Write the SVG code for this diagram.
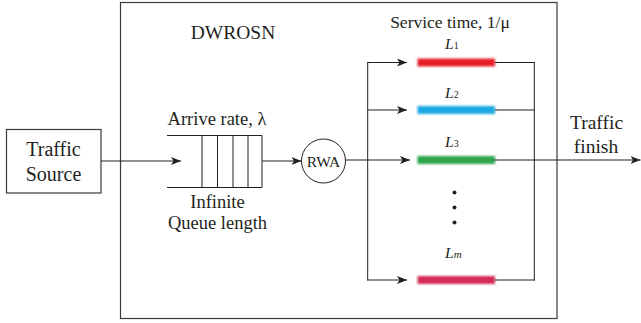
<svg xmlns="http://www.w3.org/2000/svg" width="641" height="323" viewBox="0 0 641 323">
  <style>
    .frame { fill: none; stroke: #3a3a3a; stroke-width: 1.2; }
    .wire { fill: none; stroke: #231f20; stroke-width: 1; }
    .t { font-family: "Liberation Serif", "Times New Roman", serif; fill: #231f20; }
    .lab { font-family: "Liberation Serif", "Times New Roman", serif; fill: #231f20; font-style: italic; font-size: 15.5px; }
    .sub { font-size: 10px; font-style: normal; }
    .subi { font-size: 11px; font-style: italic; }
    .bar { stroke: none; filter: url(#soft); }
  </style>
  <defs>
    <marker id="arrow" viewBox="0 0 10 8" refX="10" refY="4" markerWidth="10" markerHeight="8" markerUnits="userSpaceOnUse" orient="auto">
      <path d="M0,0 L10,4 L0,8 L2.5,4 Z" fill="#231f20"/>
    </marker>
    <filter id="soft" x="-10%" y="-60%" width="120%" height="220%">
      <feGaussianBlur stdDeviation="0.8"/>
    </filter>
  </defs>

  <!-- network boundary -->
  <g id="dwrosn">
    <rect class="frame" x="120.5" y="2.5" width="436.5" height="316"/>
    <text class="t" x="233" y="39" font-size="19.5" text-anchor="middle">DWROSN</text>
  </g>

  <!-- traffic generator -->
  <g id="traffic-source">
    <rect class="frame" x="6.5" y="129.5" width="94.5" height="63.5"/>
    <text class="t" x="53.5" y="155.5" font-size="20" text-anchor="middle">Traffic</text>
    <text class="t" x="53.5" y="181" font-size="20" text-anchor="middle">Source</text>
  </g>

  <!-- waiting queue -->
  <g id="queue">
    <path class="wire" d="M167,135.5 H262 V187.5 H167 M202,135.5 V187.5 M217.5,135.5 V187.5 M233,135.5 V187.5 M248,135.5 V187.5"/>
    <text class="t" x="217" y="125" font-size="18.5" text-anchor="middle">Arrive rate, λ</text>
    <text class="t" x="217.5" y="208" font-size="18.5" text-anchor="middle">Infinite</text>
    <text class="t" x="217.5" y="229" font-size="18.5" text-anchor="middle">Queue length</text>
  </g>

  <!-- routing and wavelength assignment -->
  <g id="rwa">
    <circle class="wire" cx="323.5" cy="161" r="22"/>
    <text class="t" x="323.5" y="166.5" font-size="15.5" text-anchor="middle">RWA</text>
  </g>

  <!-- parallel lightpaths -->
  <g id="lightpaths">
    <text class="t" x="450" y="27.5" font-size="17.5" text-anchor="middle">Service time, 1/μ</text>
    <g id="l1">
      <rect class="bar" x="417.5" y="58.5" width="77.5" height="8" fill="#e61e28"/>
      <text class="lab" x="445" y="49">L<tspan class="sub">1</tspan></text>
    </g>
    <g id="l2">
      <rect class="bar" x="417.5" y="106" width="77.5" height="8" fill="#1ea9e1"/>
      <text class="lab" x="445" y="98">L<tspan class="sub">2</tspan></text>
    </g>
    <g id="l3">
      <rect class="bar" x="417.5" y="156" width="77.5" height="8" fill="#2fa64a"/>
      <text class="lab" x="445" y="147">L<tspan class="sub">3</tspan></text>
    </g>
    <g id="dots" fill="#231f20">
      <circle cx="454.5" cy="192.5" r="2"/>
      <circle cx="454.5" cy="207.5" r="2"/>
      <circle cx="454.5" cy="222.5" r="2"/>
    </g>
    <g id="lm">
      <rect class="bar" x="417.5" y="276" width="77.5" height="8" fill="#d52a5c"/>
      <text class="lab" x="445" y="258">L<tspan class="subi">m</tspan></text>
    </g>
  </g>

  <g id="traffic-finish">
    <text class="t" x="596.5" y="128.5" font-size="19.5" text-anchor="middle">Traffic</text>
    <text class="t" x="596" y="152.5" font-size="19.5" text-anchor="middle">finish</text>
  </g>

  <!-- connectors -->
  <g id="connectors">
    <line class="wire" x1="101" y1="161" x2="181" y2="161" marker-end="url(#arrow)"/>
    <line class="wire" x1="262" y1="161" x2="301.5" y2="161" marker-end="url(#arrow)"/>
    <line class="wire" x1="345.5" y1="160" x2="410" y2="160" marker-end="url(#arrow)"/>
    <line class="wire" x1="367.7" y1="62.5" x2="367.7" y2="280.5"/>
    <line class="wire" x1="367.2" y1="62.5" x2="407" y2="62.5" marker-end="url(#arrow)"/>
    <line class="wire" x1="367.7" y1="110" x2="407" y2="110" marker-end="url(#arrow)"/>
    <line class="wire" x1="367.2" y1="280" x2="407" y2="280" marker-end="url(#arrow)"/>
    <line class="wire" x1="495" y1="62.5" x2="534.8" y2="62.5"/>
    <line class="wire" x1="495" y1="110" x2="534.3" y2="110"/>
    <line class="wire" x1="495" y1="280" x2="534.8" y2="280"/>
    <line class="wire" x1="534.3" y1="62" x2="534.3" y2="280.5"/>
    <line class="wire" x1="494" y1="160" x2="640.5" y2="160" marker-end="url(#arrow)"/>
  </g>
</svg>
